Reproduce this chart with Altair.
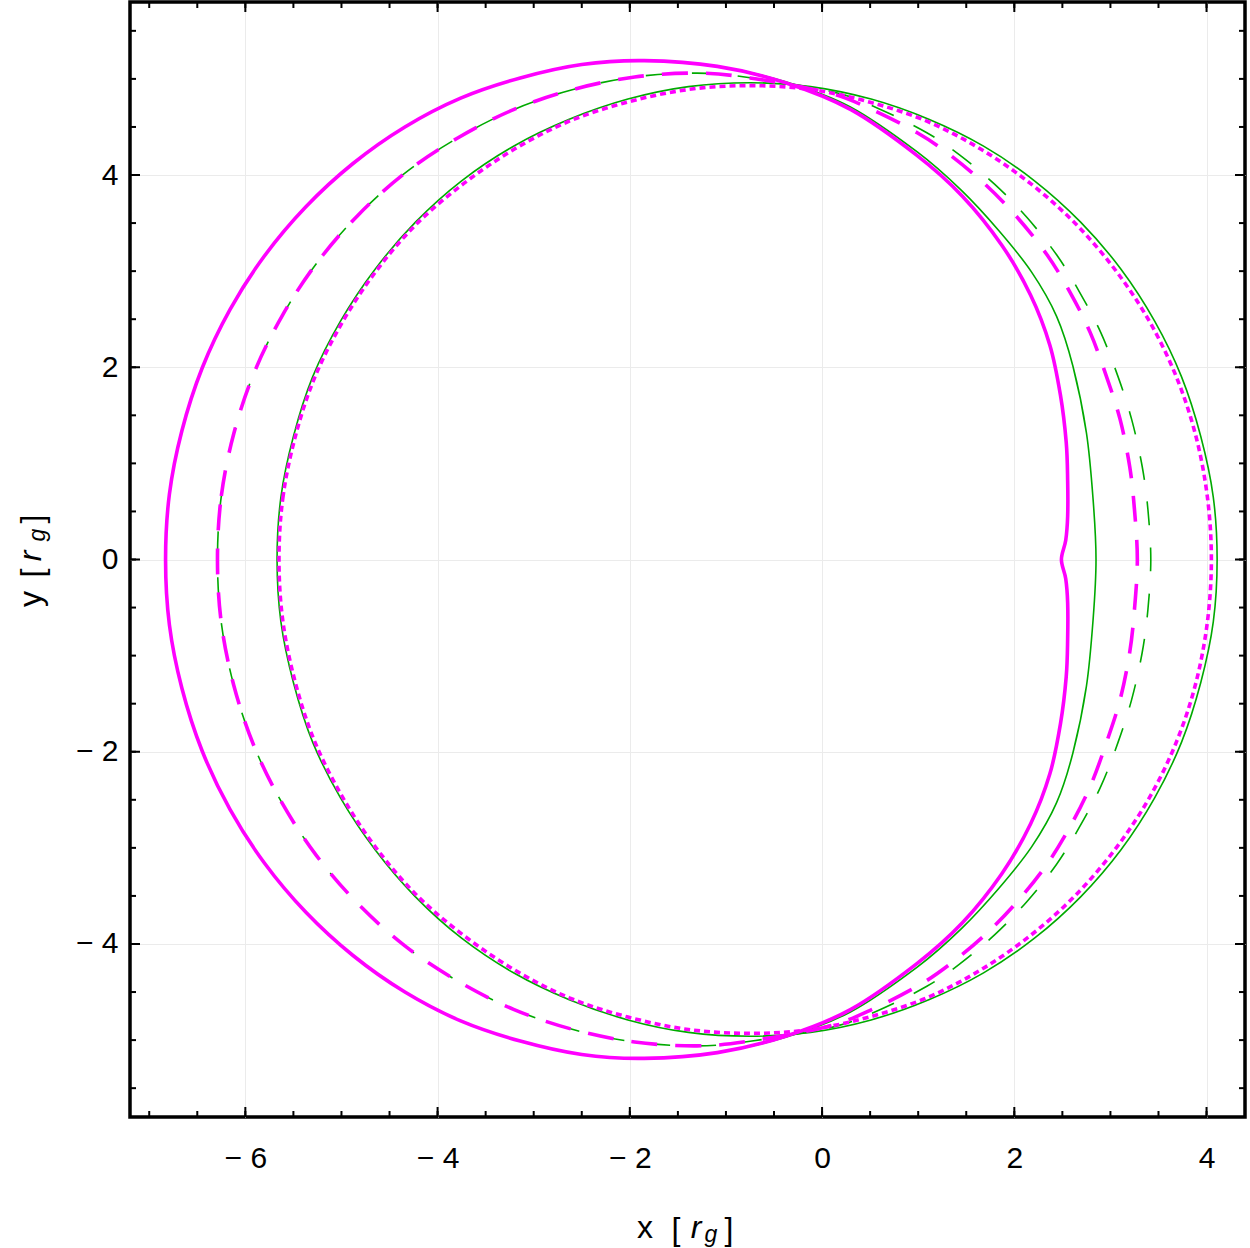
import altair as alt
import pandas as pd

# ---------------- data ----------------
# magenta solid (thick)
M1_x_upper = [-6.83, -6.79, -6.66, -6.45, -6.16, -5.80, -5.37, -4.88, -4.34, -3.76, -3.14, -2.50, -1.85, -1.09, -0.38, 0.30, 0.98, 1.46, 1.87, 2.17, 2.37, 2.48, 2.54, 2.555, 2.555, 2.535, 2.49]
M1_y_upper = [0.00, 0.68, 1.34, 1.99, 2.60, 3.16, 3.67, 4.12, 4.50, 4.80, 5.01, 5.15, 5.19, 5.13, 4.96, 4.68, 4.21, 3.78, 3.27, 2.75, 2.23, 1.71, 1.22, 0.82, 0.45, 0.20, 0.00]
M1_x_lower = [2.535, 2.555, 2.555, 2.54, 2.48, 2.37, 2.17, 1.87, 1.46, 0.98, 0.30, -0.38, -1.09, -1.85, -2.50, -3.14, -3.76, -4.34, -4.88, -5.37, -5.80, -6.16, -6.45, -6.66, -6.79]
M1_y_lower = [-0.20, -0.45, -0.82, -1.22, -1.71, -2.23, -2.75, -3.27, -3.78, -4.21, -4.68, -4.96, -5.13, -5.19, -5.15, -5.01, -4.80, -4.50, -4.12, -3.67, -3.16, -2.60, -1.99, -1.34, -0.68]

# green solid (pair of magenta solid)
G1_x_upper = [-6.83, -6.79, -6.66, -6.45, -6.16, -5.80, -5.37, -4.88, -4.34, -3.76, -3.14, -2.50, -1.85, -1.09, -0.38, 0.29, 0.99, 1.45, 1.84, 2.18, 2.44, 2.61, 2.75, 2.82, 2.85]
G1_y_upper = [0.00, 0.68, 1.34, 1.99, 2.60, 3.16, 3.67, 4.12, 4.50, 4.80, 5.01, 5.15, 5.19, 5.13, 4.97, 4.71, 4.24, 3.84, 3.42, 2.99, 2.53, 2.01, 1.32, 0.62, 0.00]
G1_x_lower = [2.82, 2.75, 2.61, 2.44, 2.18, 1.84, 1.45, 0.99, 0.29, -0.38, -1.09, -1.85, -2.50, -3.14, -3.76, -4.34, -4.88, -5.37, -5.80, -6.16, -6.45, -6.66, -6.79]
G1_y_lower = [-0.62, -1.32, -2.01, -2.53, -2.99, -3.42, -3.84, -4.24, -4.71, -4.97, -5.13, -5.19, -5.15, -5.01, -4.80, -4.50, -4.12, -3.67, -3.16, -2.60, -1.99, -1.34, -0.68]

# magenta dashed
M2_x_upper = [-6.29, -6.25, -6.12, -5.91, -5.62, -5.26, -4.83, -4.34, -3.80, -3.21, -2.59, -1.95, -1.30, -0.75, 0.05, 0.50, 0.99, 1.33, 1.70, 2.03, 2.34, 2.58, 2.79, 2.96, 3.10, 3.20, 3.25, 3.28]
M2_y_upper = [0.00, 0.66, 1.31, 1.94, 2.53, 3.08, 3.58, 4.02, 4.38, 4.68, 4.89, 5.02, 5.06, 5.01, 4.86, 4.69, 4.44, 4.21, 3.90, 3.56, 3.17, 2.78, 2.36, 1.90, 1.46, 0.97, 0.52, 0.00]
M2_x_lower = [3.25, 3.20, 3.10, 2.96, 2.79, 2.58, 2.34, 2.03, 1.70, 1.33, 0.99, 0.50, 0.05, -0.75, -1.30, -1.95, -2.59, -3.21, -3.80, -4.34, -4.83, -5.26, -5.62, -5.91, -6.12, -6.25]
M2_y_lower = [-0.52, -0.97, -1.46, -1.90, -2.36, -2.78, -3.17, -3.56, -3.90, -4.21, -4.44, -4.69, -4.86, -5.01, -5.06, -5.02, -4.89, -4.68, -4.38, -4.02, -3.58, -3.08, -2.53, -1.94, -1.31, -0.66]

# green dashed
G3_x_upper = [-6.29, -6.25, -6.12, -5.91, -5.62, -5.26, -4.83, -4.34, -3.80, -3.21, -2.59, -1.95, -1.30, -0.73, 0.13, 0.59, 1.09, 1.43, 1.80, 2.13, 2.44, 2.68, 2.90, 3.08, 3.22, 3.33, 3.39, 3.42]
G3_y_upper = [0.00, 0.66, 1.31, 1.94, 2.53, 3.08, 3.58, 4.02, 4.38, 4.68, 4.89, 5.02, 5.06, 5.01, 4.86, 4.69, 4.44, 4.21, 3.90, 3.56, 3.17, 2.78, 2.36, 1.90, 1.46, 0.97, 0.52, 0.00]
G3_x_lower = [3.39, 3.33, 3.22, 3.08, 2.90, 2.68, 2.44, 2.13, 1.80, 1.43, 1.09, 0.59, 0.13, -0.73, -1.30, -1.95, -2.59, -3.21, -3.80, -4.34, -4.83, -5.26, -5.62, -5.91, -6.12, -6.25]
G3_y_lower = [-0.52, -0.97, -1.46, -1.90, -2.36, -2.78, -3.17, -3.56, -3.90, -4.21, -4.44, -4.69, -4.86, -5.01, -5.06, -5.02, -4.89, -4.68, -4.38, -4.02, -3.58, -3.08, -2.53, -1.94, -1.31, -0.66]

# green solid (outer right)
G2_x_upper = [-5.67, -5.63, -5.50, -5.30, -5.01, -4.65, -4.23, -3.75, -3.21, -2.63, -2.02, -1.39, -0.75, -0.12, 0.51, 1.11, 1.68, 2.21, 2.69, 3.11, 3.46, 3.74, 3.94, 4.07, 4.11]
G2_y_upper = [0.00, 0.65, 1.28, 1.90, 2.48, 3.02, 3.51, 3.94, 4.30, 4.58, 4.79, 4.92, 4.96, 4.92, 4.79, 4.58, 4.30, 3.94, 3.51, 3.02, 2.48, 1.90, 1.28, 0.65, 0.00]
G2_x_lower = [4.07, 3.94, 3.74, 3.46, 3.11, 2.69, 2.21, 1.68, 1.11, 0.51, -0.12, -0.75, -1.39, -2.02, -2.63, -3.21, -3.75, -4.23, -4.65, -5.01, -5.30, -5.50, -5.63]
G2_y_lower = [-0.65, -1.28, -1.90, -2.48, -3.02, -3.51, -3.94, -4.30, -4.58, -4.79, -4.92, -4.96, -4.92, -4.79, -4.58, -4.30, -3.94, -3.51, -3.02, -2.48, -1.90, -1.28, -0.65]

# magenta dotted
M3_x_upper = [-5.65, -5.61, -5.48, -5.28, -4.99, -4.64, -4.22, -3.73, -3.20, -2.63, -2.02, -1.39, -0.75, -0.12, 0.49, 1.09, 1.65, 2.17, 2.64, 3.06, 3.41, 3.69, 3.89, 4.01, 4.05]
M3_y_upper = [0.00, 0.64, 1.28, 1.89, 2.47, 3.00, 3.49, 3.91, 4.27, 4.56, 4.76, 4.89, 4.93, 4.89, 4.76, 4.56, 4.27, 3.91, 3.49, 3.00, 2.47, 1.89, 1.28, 0.64, 0.00]
M3_x_lower = [4.01, 3.89, 3.69, 3.41, 3.06, 2.64, 2.17, 1.65, 1.09, 0.49, -0.12, -0.75, -1.39, -2.02, -2.63, -3.20, -3.73, -4.22, -4.64, -4.99, -5.28, -5.48, -5.61]
M3_y_lower = [-0.64, -1.28, -1.89, -2.47, -3.00, -3.49, -3.91, -4.27, -4.56, -4.76, -4.89, -4.93, -4.89, -4.76, -4.56, -4.27, -3.91, -3.49, -3.00, -2.47, -1.89, -1.28, -0.64]

# ticks
X_MAJOR = [-6, -4, -2, 0, 2, 4]
Y_MAJOR = [-4, -2, 0, 2, 4]
X_MINOR = [-7.0, -6.5, -6.0, -5.5, -5.0, -4.5, -4.0, -3.5, -3.0, -2.5, -2.0, -1.5, -1.0, -0.5,
           0.0, 0.5, 1.0, 1.5, 2.0, 2.5, 3.0, 3.5, 4.0]
Y_MINOR = [-5.5, -5.0, -4.5, -4.0, -3.5, -3.0, -2.5, -2.0, -1.5, -1.0, -0.5, 0.0,
           0.5, 1.0, 1.5, 2.0, 2.5, 3.0, 3.5, 4.0, 4.5, 5.0, 5.5]
X_DOMAIN = [-7.2, 4.4]
Y_DOMAIN = [-5.8, 5.8]

# ---------------- styling ----------------
W = 1115
H = 1115
MAGENTA = "#ff00ff"
GREEN = "#00aa00"
FONT = "Liberation Sans"

xscale = alt.Scale(domain=X_DOMAIN, nice=False, zero=False)
yscale = alt.Scale(domain=Y_DOMAIN, nice=False, zero=False)

label_expr = "datum.value < 0 ? '\u2212 ' + format(-datum.value, 'd') : format(datum.value, 'd')"

xaxis = alt.Axis(values=X_MAJOR, title=None, grid=True, gridColor="#ebebeb", gridWidth=1,
                 ticks=False, tickSize=0, domain=False, labelFont=FONT, labelFontSize=30,
                 labelColor="black", labelPadding=26, labelExpr=label_expr, labelFlush=False)
yaxis = alt.Axis(values=Y_MAJOR, title=None, grid=True, gridColor="#ebebeb", gridWidth=1,
                 ticks=False, tickSize=0, domain=False, labelFont=FONT, labelFontSize=30,
                 labelColor="black", labelPadding=12, labelExpr=label_expr, labelFlush=False)


def curve(xu, yu, xl, yl, color, width, dash=None):
    xs = xu + xl
    ys = yu + yl
    df = pd.DataFrame({"x": xs, "y": ys, "i": list(range(len(xs)))})
    kw = dict(color=color, strokeWidth=width, interpolate="cardinal-closed")
    if dash is not None:
        kw["strokeDash"] = dash
    return alt.Chart(df).mark_line(**kw).encode(
        x=alt.X("x:Q", scale=xscale, axis=xaxis),
        y=alt.Y("y:Q", scale=yscale, axis=yaxis),
        order=alt.Order("i:Q"),
    )


def xticks(vals, length, top):
    df = pd.DataFrame({"x": vals})
    y0, y1 = (0, length) if top else (H, H - length)
    return alt.Chart(df).mark_rule(color="black", strokeWidth=2).encode(
        x=alt.X("x:Q", scale=xscale, axis=xaxis), y=alt.value(y0), y2=alt.value(y1))


def yticks(vals, length, right):
    df = pd.DataFrame({"y": vals})
    x0, x1 = (W, W - length) if right else (0, length)
    return alt.Chart(df).mark_rule(color="black", strokeWidth=2).encode(
        y=alt.Y("y:Q", scale=yscale, axis=yaxis), x=alt.value(x0), x2=alt.value(x1))


dummy = pd.DataFrame({"a": [0]})


def piece(txt, px, py, size=32, italic=False, angle=0):
    kw = dict(text=txt, font=FONT, fontSize=size, color="black", align="center",
              baseline="alphabetic")
    if italic:
        kw["fontStyle"] = "italic"
    if angle:
        kw["angle"] = angle
    return alt.Chart(dummy).mark_text(**kw).encode(x=alt.value(px), y=alt.value(py))


layers = [
    curve(G2_x_upper, G2_y_upper, G2_x_lower, G2_y_lower, GREEN, 1.6),
    curve(G1_x_upper, G1_y_upper, G1_x_lower, G1_y_lower, GREEN, 1.6),
    curve(G3_x_upper, G3_y_upper, G3_x_lower, G3_y_lower, GREEN, 1.6, [24, 22]),
    curve(M3_x_upper, M3_y_upper, M3_x_lower, M3_y_lower, MAGENTA, 3.6, [6, 4]),
    curve(M2_x_upper, M2_y_upper, M2_x_lower, M2_y_lower, MAGENTA, 3.6, [26, 18]),
    curve(M1_x_upper, M1_y_upper, M1_x_lower, M1_y_lower, MAGENTA, 3.6),
    xticks(X_MINOR, 6, False), xticks(X_MAJOR, 10, False),
    xticks(X_MINOR, 6, True), xticks(X_MAJOR, 10, True),
    yticks(Y_MINOR, 6, False), yticks(Y_MAJOR, 10, False),
    yticks(Y_MINOR, 6, True), yticks(Y_MAJOR, 10, True),
    # x title: x [ r_g ]
    piece("x", 515, 1236),
    piece("[", 546, 1238),
    piece("r", 566, 1236, italic=True),
    piece("g", 581, 1240, size=23, italic=True),
    piece("]", 599, 1238),
    # y title (rotated)
    piece("y", -89, 597, angle=270),
    piece("[", -87, 571, angle=270),
    piece("r", -89, 554, italic=True, angle=270),
    piece("g", -85, 533, size=23, italic=True, angle=270),
    piece("]", -87, 517, angle=270),
]

chart = alt.layer(*layers).properties(
    width=W, height=H,
    padding={"left": 130, "top": 2, "right": 5, "bottom": 131},
    autosize=alt.AutoSizeParams(type="none"),
    background="white",
).configure_view(stroke="black", strokeWidth=3.5)

chart.save("out.html", embed_options={"renderer": "svg", "actions": False})
